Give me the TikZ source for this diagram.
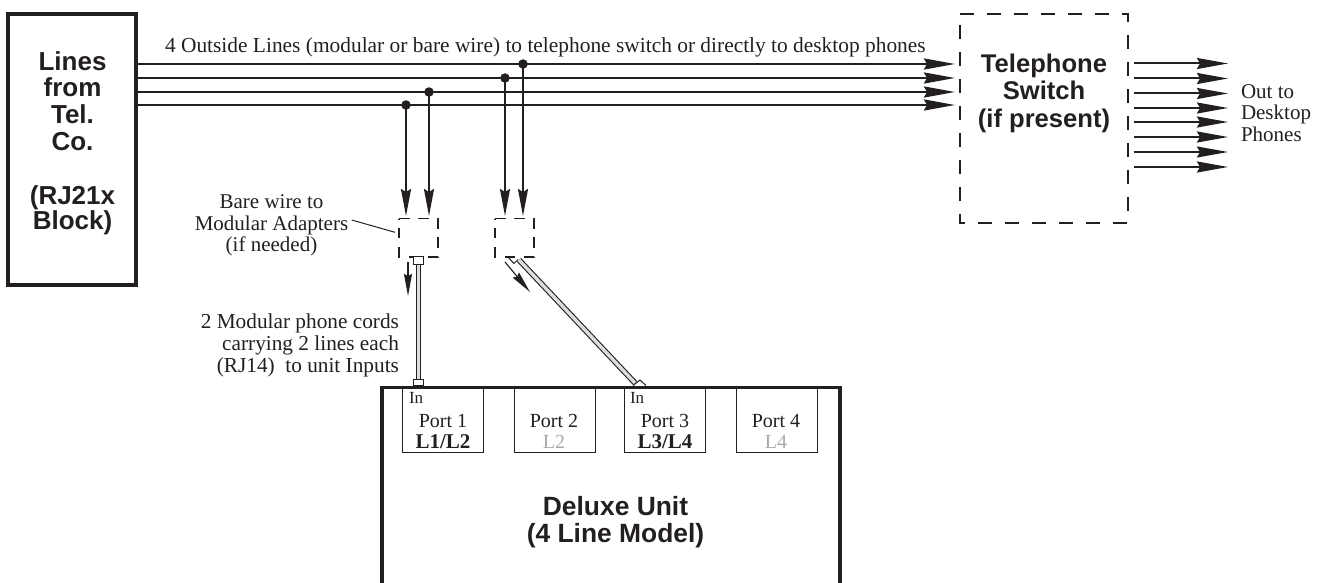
\documentclass[tikz,border=0pt]{standalone}
\usepackage{fontspec}
\setmainfont{Liberation Serif}
\setsansfont{Liberation Sans}
\usetikzlibrary{arrows.meta,calc}
\definecolor{ink}{HTML}{231F20}
\definecolor{cordfill}{HTML}{DDDDDD}
\definecolor{faint}{HTML}{A8A8A8}
\tikzset{
  x=1pt,y=-1pt,
  every node/.style={text=ink,inner sep=0,outer sep=0},
  thickbox/.style={draw=ink,line width=3.8pt,fill=none},
  dashbox/.style={draw=ink,line width=2.3pt,dash pattern=on 14pt off 13pt},
  smalldash/.style={draw=ink,line width=1.7pt,dash pattern=on 10.5pt off 8.8pt},
  tip/.style={-{Stealth[length=31pt,width=11pt,inset=3pt]}},
  wire/.style={draw=ink,line width=2.4pt,tip},
  outwire/.style={draw=ink,line width=2pt,tip},
  dropwire/.style={draw=ink,line width=2pt,-{Stealth[length=27pt,width=10pt,inset=3pt]}},
  tinywire/.style={draw=ink,line width=1.1pt,-{Stealth[length=22pt,width=8pt,inset=2pt]}},
  dot/.style={circle,fill=ink,minimum size=9.5pt},
  cord/.style={draw=ink,line width=5.6pt},
  cordin/.style={draw=cordfill,line width=3.4pt},
  jack/.style={draw=ink,line width=1pt,fill=white},
  portbox/.style={draw=ink,line width=1pt,minimum width=81pt,minimum height=64.5pt},
  boxlabel/.style={font=\sffamily\bfseries\fontsize{25.6}{27.5}\selectfont,align=center},
  serif/.style={font=\fontsize{21}{21.5}\selectfont},
  portlabel/.style={font=\fontsize{20}{21}\selectfont,align=center},
  portstrong/.style={font=\fontsize{21}{21}\selectfont\bfseries},
}
\begin{document}
\begin{tikzpicture}
\useasboundingbox (0,0) rectangle (1323,583);
% boxes
\node[thickbox,minimum width=128pt,minimum height=271pt] (block) at (72,149.5) {};
\node[boxlabel,font=\sffamily\bfseries\fontsize{26}{26.8}\selectfont] (blocktxt) at (72.5,143) {Lines\\from\\Tel.\\Co.\\[27.2pt](RJ21x\\[-1.8pt]Block)};
\path[dashbox] (960,14)--(1128,14)--(1128,223)--(960,223)--cycle;
\node[boxlabel] (swtxt) at (1044,93) {Telephone\\Switch\\(if present)};
% wires
\coordinate (w1) at (136,64);\coordinate (e1) at (955,64);
\coordinate (w2) at (136,78);\coordinate (e2) at (955,78);
\coordinate (w3) at (136,92);\coordinate (e3) at (955,92);
\coordinate (w4) at (136,105);\coordinate (e4) at (955,105);
\draw[wire] (w1)--(e1);
\draw[wire] (w2)--(e2);
\draw[wire] (w3)--(e3);
\draw[wire] (w4)--(e4);
\node[serif,font=\fontsize{21.4}{22}\selectfont,anchor=west] (toplabel) at (165,47) {4 Outside Lines (modular or bare wire) to telephone switch or directly to desktop phones};
% outputs
\foreach \i/\y in {1/63.5,2/78.5,3/93.5,4/108,5/122,6/137,7/152,8/167}{
  \coordinate (oa\i) at (1134,\y);
  \coordinate (ob\i) at (1228,\y);
  \draw[outwire] (oa\i)--(ob\i);
}
\node[serif,align=left,anchor=west] (outtxt) at (1241,113) {Out to\\Desktop\\Phones};
% taps
\node[dot] (d1) at (406,105) {};
\node[dot] (d2) at (429,92) {};
\node[dot] (d3) at (505,78) {};
\node[dot] (d4) at (523,64) {};
\coordinate (a1) at (406,216);\coordinate (a2) at (429,216);
\coordinate (a3) at (505,216);\coordinate (a4) at (523,216);
\draw[dropwire] (d1.center)--(a1);
\draw[dropwire] (d2.center)--(a2);
\draw[dropwire] (d3.center)--(a3);
\draw[dropwire] (d4.center)--(a4);
% adapters
\path[smalldash] (399,218.5)--(438,218.5)--(438,257)--(399,257)--cycle;
\path[smalldash] (495,218.5)--(534,218.5)--(534,257)--(495,257)--cycle;
\coordinate (adp1) at (395,232.3);
\coordinate (bareend) at (351.7,220);
\node[serif,align=center] (baretxt) at (271.5,225.5) {Bare wire to\\Modular Adapters\\(if needed)};
\draw[ink,line width=1pt] (bareend)--(adp1);
% unit
\node[portbox,anchor=north west] (p1) at (402.5,388) {};
\node[portbox,anchor=north west] (p2) at (514,388) {};
\node[portbox,anchor=north west] (p3) at (624,388) {};
\node[portbox,anchor=north west] (p4) at (736,388) {};
\draw[thickbox] (382,583)--(382,387.5)--(840,387.5)--(840,583);
\node[font=\fontsize{17}{17}\selectfont,anchor=north west] (in1) at (409,392) {In};
\node[font=\fontsize{17}{17}\selectfont,anchor=north west] (in3) at (630,392) {In};
\node[portlabel] (pl1) at (443,431) {Port 1\\{\fontsize{21}{21}\selectfont\bfseries L1/L2}};
\node[portlabel] (pl2) at (554,431) {Port 2\\\textcolor{faint}{L2}};
\node[portlabel] (pl3) at (665,431) {Port 3\\{\fontsize{21}{21}\selectfont\bfseries L3/L4}};
\node[portlabel] (pl4) at (776,431) {Port 4\\\textcolor{faint}{L4}};
\node[boxlabel,font=\sffamily\bfseries\fontsize{26.4}{26.5}\selectfont] (unittxt) at (615.5,522) {Deluxe Unit\\(4 Line Model)};
% cords
\coordinate (c1t) at (418.5,264);\coordinate (c1b) at (418.5,380);
\draw[cord] (c1t)--(c1b);\draw[cordin] (c1t)--(c1b);
\node[jack,minimum width=10.5pt,minimum height=7.5pt] (j1) at (418.5,260.5) {};
\node[jack,minimum width=10pt,minimum height=6.5pt] (j2) at (418.5,382.5) {};
\coordinate (c2t) at (519,260);\coordinate (c2b) at (635,383);
\draw[cord] (c2t)--(c2b);\draw[cordin] (c2t)--(c2b);
\coordinate (j3a) at (508,257);\coordinate (j3b) at (514,263.5);\coordinate (j3c) at (518,259.5);
\draw[ink,line width=1pt] (j3a)--(j3b)--(j3c);
\coordinate (j4a) at (633,385.5);\coordinate (j4b) at (640,380);\coordinate (j4c) at (646,385.5);
\draw[ink,line width=1pt,fill=white] (j4a)--(j4b)--(j4c);
\coordinate (s1a) at (408,262);\coordinate (s1b) at (408,296);
\coordinate (s2a) at (505,262);\coordinate (s2b) at (530,292);
\draw[tinywire] (s1a)--(s1b);
\draw[tinywire] (s2a)--(s2b);
\node[font=\fontsize{21.3}{22}\selectfont,align=right,anchor=east] (cordtxt) at (399,345) {2 Modular phone cords\\carrying 2 lines each\\(RJ14)\ \ to unit Inputs};
\end{tikzpicture}
\end{document}
